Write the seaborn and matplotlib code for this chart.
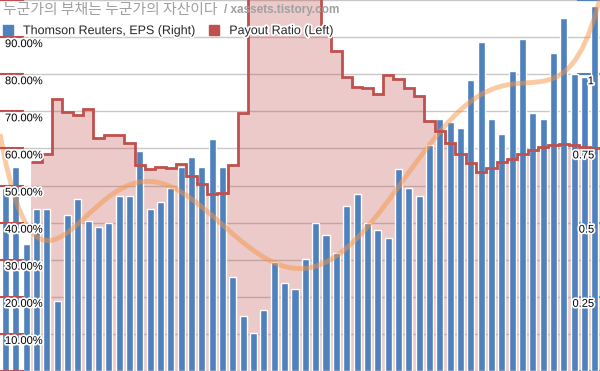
import matplotlib
matplotlib.use('Agg')
import matplotlib.pyplot as plt
import matplotlib.patheffects as pe
import matplotlib.transforms as mtransforms
from matplotlib.patches import Patch
import numpy as np
import seaborn as sns

sns.set_theme(style="white")
plt.rcParams['font.family'] = ['Liberation Sans', 'Noto Sans CJK KR', 'DejaVu Sans']

COR_EPS = "#4f81bd"
COR_PAYOUT = "#c0504d"
COR_TREND = "#f79646"

# EPS (right axis), one bar per period
eps = [0.618, 0.689, 0.429, 0.547, 0.547, 0.236, 0.527, 0.578, 0.507, 0.486,
       0.497, 0.588, 0.588, 0.740, 0.547, 0.568, 0.618, 0.689, 0.720, 0.689,
       0.780, 0.689, 0.318, 0.186, 0.128, 0.206, 0.368, 0.297, 0.277, 0.378,
       0.497, 0.459, 0.399, 0.557, 0.598, 0.497, 0.476, 0.449, 0.679, 0.618,
       0.588, 0.760, 0.848, 0.838, 0.818, 0.980, 1.108, 0.848, 0.797, 1.010,
       1.118, 0.868, 0.848, 1.071, 1.189, 1.000, 0.990, 1.230]

# payout ratio in % (left axis); first three periods have no value
payout = [np.nan, np.nan, np.nan,
          56.2, 58.4, 73.3, 69.9, 68.9, 70.6, 62.7, 63.7, 63.7, 61.4, 55.4,
          54.5, 55.1, 54.6, 55.9, 52.5, 50.5, 47.8, 48.0, 55.6, 69.6,
          108, 115, 112, 118, 120, 110, 104,
          91.4, 86.2, 79.2, 76.5, 76.2, 74.6, 79.7, 78.6, 76.2, 74.1, 67.3,
          64.6, 61.4, 58.6, 56.0, 53.6, 54.8, 56.2, 57.2, 58.6, 59.7, 60.3,
          61.0, 61.3, 60.8, 60.3, 60.0]

left_ticks = [10, 20, 30, 40, 50, 60, 70, 80, 90]
right_ticks = [0.25, 0.5, 0.75, 1]
right_labels = ["0.25", "0.5", "0.75", "1"]

titulo = "누군가의 부채는 누군가의 자산이다"
fonte = "/ xassets.tistory.com"
legenda = ["Thomson Reuters, EPS (Right)", "Payout Ratio (Left)"]

periodo = np.arange(len(eps))
xlim = (-0.53, len(eps) - 0.5)

fig = plt.figure(figsize=(6, 3.71), dpi=100)
ax = fig.add_axes([0, 0, 1, 1])
ax2 = ax.twinx()
ax3 = ax.twinx()

# camada de baixo: grade + area do payout
ax.set_axisbelow(True)
ax.set_yticks(range(0, 101, 10))
ax.set_yticklabels([])
ax.yaxis.grid(True, color="#c8c8c8", linewidth=1)
pay = np.array(payout)
ini = int(np.argmax(~np.isnan(pay)))
bordas = np.arange(ini, len(pay) + 1) - 0.5
ax.stairs(pay[ini:], bordas, baseline=0, fill=True, color=COR_PAYOUT, alpha=0.3, linewidth=0)
ax.set_ylim(0, 100)
ax.set_xlim(*xlim)
ax.tick_params(axis='y', length=0, labelleft=False, labelright=False)

# camada do meio: barras de EPS + tendencia polinomial (ordem 6)
sns.barplot(x=periodo, y=eps, ax=ax2, color=COR_EPS, saturation=1, width=0.68)
ax2.set_xlim(*xlim)
sns.regplot(x=periodo, y=eps, ax=ax2, order=6, scatter=False, ci=None, truncate=False,
            line_kws=dict(color=COR_TREND, alpha=0.5, linewidth=3.5, solid_capstyle='butt'))
ax2.set_xlim(*xlim)
ax2.set_ylim(0, 1.25)
ax2.set_yticks([0, 0.25, 0.5, 0.75, 1, 1.25])
ax2.set_yticklabels([])
ax2.tick_params(axis='y', direction='in', length=16.5, width=1.5, color=COR_EPS,
                right=True, left=False, labelright=False, labelleft=False)

# camada de cima: linha em degraus do payout
ax3.stairs(pay[ini:], bordas, baseline=None, color=COR_PAYOUT, linewidth=2)
ax3.set_ylim(0, 100)
ax3.set_xlim(*xlim)
ax3.set_yticks(range(0, 101, 10))
ax3.set_yticklabels([])
ax3.tick_params(axis='y', direction='in', length=17.3, width=1.5, color=COR_PAYOUT,
                left=True, right=False, labelleft=False, labelright=False)
ax3.yaxis.set_ticks_position('left')

for a in (ax, ax2, ax3):
    a.set_xticks([])
    a.set_xlabel("")
    a.set_ylabel("")
    for s in a.spines.values():
        s.set_visible(False)

halo = [pe.withStroke(linewidth=2.5, foreground="white")]

t_esq = mtransforms.offset_copy(ax.get_yaxis_transform(), fig=fig, x=5, y=-2, units='dots')
for v in left_ticks:
    ax3.text(0, v, f"{v:.2f}%", transform=t_esq, ha='left', va='top', fontsize=8,
             color="black", path_effects=halo, clip_on=False)

t_dir = mtransforms.offset_copy(ax2.get_yaxis_transform(), fig=fig, x=-6, y=-2, units='dots')
for v, lab in zip(right_ticks, right_labels):
    ax3.text(1, v, lab, transform=t_dir, ha='right', va='top', fontsize=8,
             color="black", path_effects=halo, clip_on=False)

fig.text(3 / 600, 1 - 10 / 371, titulo, fontsize=10.7, color="#a0a0a0", va='center', ha='left',
         family=['Noto Sans CJK KR', 'DejaVu Sans'])
fig.text(224 / 600, 1 - 10 / 371, fonte, fontsize=8.5, color="#a0a0a0", va='center', ha='left',
         fontweight='bold')

handles = [Patch(color=COR_EPS), Patch(color=COR_PAYOUT)]
leg = ax3.legend(handles, legenda, loc='upper left', bbox_to_anchor=(3 / 600, 1 - 25 / 371),
                 bbox_transform=fig.transFigure, ncol=2, frameon=False, fontsize=9,
                 handlelength=0.8, handleheight=0.8, handletextpad=0.8, columnspacing=1.1,
                 borderpad=0, borderaxespad=0)
for t in leg.get_texts():
    t.set_path_effects(halo)

fig.savefig("out.png", dpi=100)
plt.close()
